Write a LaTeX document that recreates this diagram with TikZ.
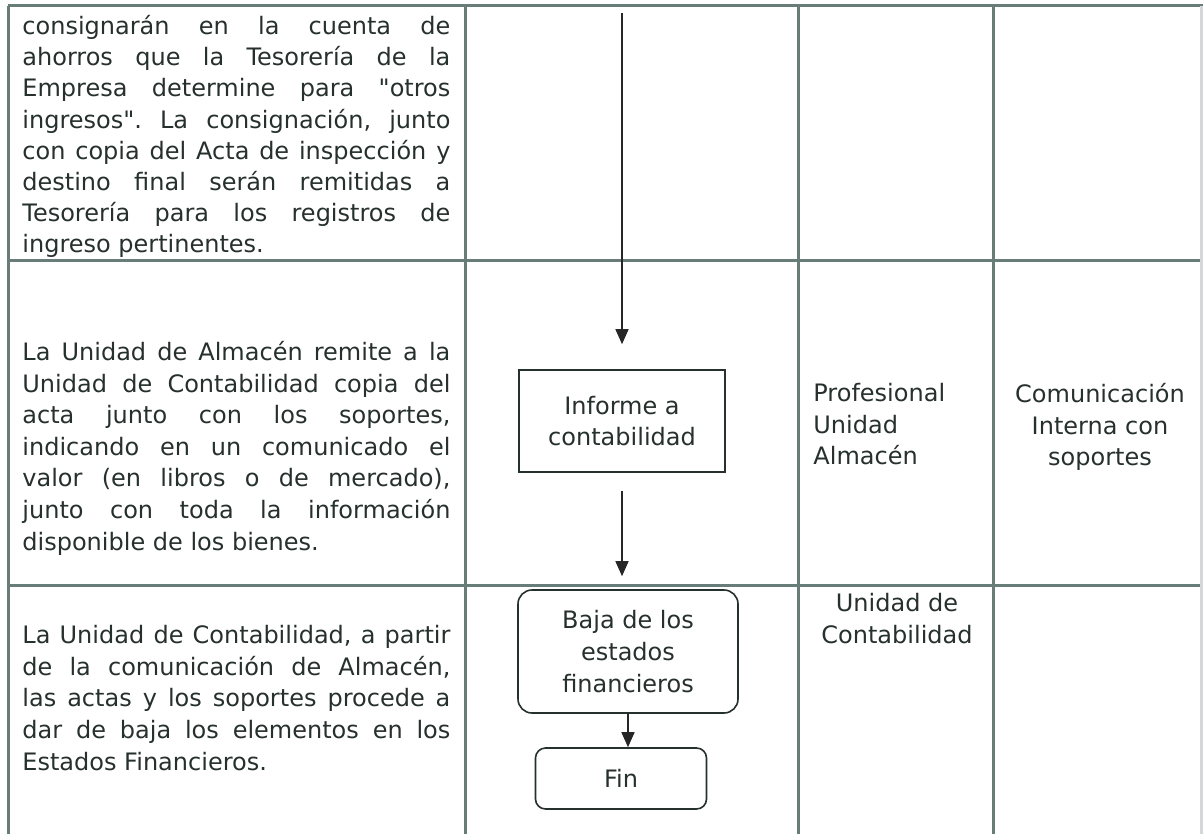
\documentclass[tikz,border=0pt]{standalone}
\usepackage{fontspec}
\setmainfont{DejaVu Sans}
\usepackage{xcolor}
\usetikzlibrary{positioning,arrows.meta}
\definecolor{gris}{RGB}{104,124,120}
\definecolor{tinta}{RGB}{38,48,44}
\hbadness=10000
\frenchspacing

\begin{document}
\begin{tikzpicture}[
		x=0.5pt, y=-0.5pt,
		every node/.style={
			inner sep=0pt,
			text=tinta,
			font=\fontsize{12}{15.8}\selectfont
		},
		linea/.style={
			draw=gris,
			line width=1.5pt
		},
		celda/.style={
			text width=214pt,
			align=justify,
			anchor=north west
		},
		caja/.style={
			draw=tinta,
			line width=0.8pt,
			align=center
		},
		flujo/.style={
			draw=black!85,
			line width=0.7pt,
			-{Triangle[width=6.5pt,length=7.5pt]}
		}
		]
		
		\useasboundingbox (0,0) rectangle (1203,834);
		
		% tabla
		\draw[linea] (8,6) -- (1203,6);
		\draw[linea] (8,260) -- (1203,260);
		\draw[linea] (8,585) -- (1203,585);
		\draw[linea] (8,6) -- (8,834);
		\draw[linea] (465,6) -- (465,834);
		\draw[linea] (798,6) -- (798,834);
		\draw[linea] (993,6) -- (993,834);
		\draw[linea, draw=gris!30] (1201,6) -- (1201,834);
		
		% descripciones
		\node[celda, font=\fontsize{12}{15.6}\selectfont] (paso1) at (22,15) {consignarán en la cuenta de\linebreak ahorros que la Tesorería de la\linebreak Empresa determine para \textquotedbl otros\linebreak ingresos\textquotedbl. La consignación, junto\linebreak con copia del Acta de inspección y\linebreak destino final serán remitidas a\linebreak Tesorería para los registros de\linebreak ingreso pertinentes.};
		\node[celda] (paso2) at (22,341) {La Unidad de Almacén remite a la\linebreak Unidad de Contabilidad copia del\linebreak acta junto con los soportes,\linebreak indicando en un comunicado el\linebreak valor (en libros o de mercado),\linebreak junto con toda la información\linebreak disponible de los bienes.};
		\node[celda] (paso3) at (22,625) {La Unidad de Contabilidad, a partir\linebreak de la comunicación de Almacén,\linebreak las actas y los soportes procede a\linebreak dar de baja los elementos en los\linebreak Estados Financieros.};
		
		% flujo
		\coordinate (inicio) at (622,13);
		\node[caja, minimum width=103pt, minimum height=51pt] (informe) at (622,421) {Informe a\\contabilidad};
		\node[caja, rounded corners=7pt, minimum width=110pt, minimum height=61.5pt] (baja) at (628,651.5) {Baja de los\\estados\\financieros};
		\node[caja, rounded corners=5pt, minimum width=85.5pt, minimum height=30.5pt] (fin) at (621,778.5) {Fin};
		
		\draw[flujo, shorten >=12.5pt] (inicio) -- (informe.north);
		\draw[flujo, shorten <=9pt, shorten >=6.5pt] (informe.south) -- (informe.south |- baja.north);
		\draw[flujo] (baja.south) -- (baja.south |- fin.north);
		
		% responsables y documentos
		\node[anchor=north west, align=left] (resp2) at (813,383) {Profesional\\Unidad\\Almacén};
		\node[anchor=north, align=center] (doc2) at (1100,383) {Comunicación\\Interna con\\soportes};
		\node[anchor=north, align=center] (resp3) at (897,593) {Unidad de\\Contabilidad};
		
	\end{tikzpicture}
\end{document}
